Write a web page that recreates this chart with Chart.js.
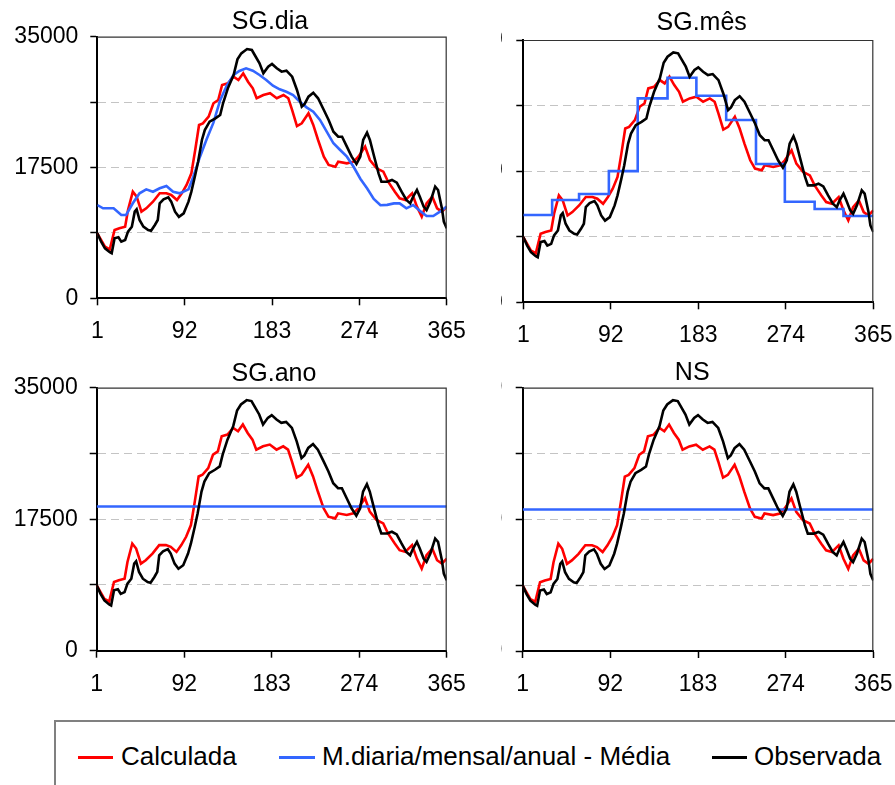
<!DOCTYPE html>
<html>
<head>
<meta charset="utf-8">
<script src="https://cdn.jsdelivr.net/npm/chart.js@4/dist/chart.umd.min.js"></script>
<style>
  html, body { margin: 0; padding: 0; background: #fff; }
  body { width: 895px; height: 785px; position: relative; overflow: hidden;
         font-family: "Liberation Sans", Arial, sans-serif; }
  canvas { position: absolute; }
  #legendBox { position: absolute; left: 54px; top: 720px; width: 900px; height: 100px;
               border: 2px solid #808080; box-sizing: border-box; }
  .key { position: absolute; height: 3px; }
  .lab { position: absolute; font-size: 26px; line-height: 30px; white-space: nowrap; color: #000; }
</style>
</head>
<body>
<canvas id="p1" width="466" height="345" style="left:0;top:0"></canvas>
<canvas id="p2" width="394" height="345" style="left:501px;top:0"></canvas>
<canvas id="p3" width="466" height="350" style="left:0;top:345px"></canvas>
<canvas id="p4" width="394" height="350" style="left:501px;top:345px"></canvas>

<div id="legendBox"></div>
<div class="key" style="left:78px;top:756px;width:35px;background:#ff0000"></div>
<div class="lab" style="left:121px;top:741px">Calculada</div>
<div class="key" style="left:279px;top:756px;width:36px;background:#3366ff"></div>
<div class="lab" style="left:322px;top:741px">M.diaria/mensal/anual - Média</div>
<div class="key" style="left:712px;top:756px;width:35px;background:#000000"></div>
<div class="lab" style="left:754px;top:741px">Observada</div>

<script>
// Day-of-year axis and value axis
const xTickDays = [1, 92, 183, 274, 365];
const yGridValues = [0, 8750, 17500, 26250, 35000];
const yTickLabels = [0, 17500, 35000];

// Observada (observed series)
const obsDays = [1,5,9,14,16,19,23,26,30,33,37,40,42,45,49,54,57,61,64,66,70,75,78,82,86,91,96,99,103,106,110,113,118,124,129,132,137,143,147,151,157,162,165,170,174,179,183,188,193,198,204,209,214,217,221,226,231,237,242,247,252,256,261,266,271,275,278,282,285,289,294,297,303,308,313,318,323,327,330,334,337,341,344,348,353,356,360,362,365];
const obsValues = [8700,7570,6690,6160,6020,8030,8170,7570,7800,8920,9580,11590,11900,10480,9580,9140,9050,9810,10480,12700,13230,13510,12930,11590,10900,11370,12930,14270,16500,18280,21180,22510,23630,24080,24530,26090,28090,29880,31970,32770,33350,33220,32550,31440,30100,30990,31350,30770,30320,30450,29650,27870,25640,26000,26980,27500,26760,25190,23860,22290,21620,21620,20290,18950,17970,18950,21180,22160,21180,19170,16720,15600,15600,15830,15470,14270,13150,12700,13590,14490,13590,12260,11810,12930,14930,14490,12040,10260,9370];

// Calculada (computed series)
const calcDays = [1,9,14,19,24,30,33,38,42,47,52,59,66,73,78,84,89,94,99,103,107,111,117,122,127,131,137,143,148,153,158,163,167,174,181,188,195,200,204,209,214,221,226,231,237,242,249,252,261,268,273,280,285,292,299,304,311,316,322,329,334,339,344,350,355,360,365];
const calcValues = [8700,6900,6550,9140,9370,9580,11810,14260,13590,11590,12040,12920,14050,14050,13820,13150,14050,15160,16720,19840,23190,23410,24300,26090,26530,28540,28760,29650,29210,30100,28980,28090,26760,27200,27430,26760,27200,26760,25190,23050,23410,24750,23190,21180,18950,17840,17610,18280,18060,18280,18950,20290,18500,17390,16940,15600,14260,13380,13150,14050,12260,10920,12710,13590,12040,11590,12260];

// Daily mean (SG.dia)
const dailyDays = [1,7,18,26,31,38,45,52,59,66,73,80,87,96,101,108,115,122,129,136,143,149,156,163,170,177,184,191,198,205,212,219,226,233,240,247,254,261,268,275,282,289,296,303,310,316,323,330,337,344,351,358,365];
const dailyMeans = [12480,12040,12040,11150,11150,12710,14050,14580,14260,14720,15030,14260,14050,14580,16270,18950,21300,23500,26500,28500,29880,30410,30770,30450,29880,29210,28450,27960,27640,27200,26300,25550,24970,23860,22290,20740,19840,18950,17600,16000,14720,13300,12450,12500,12700,12700,12040,12480,11720,11010,11010,11590,12260];

// Monthly mean (SG.mês): value held from each month edge to the next
const monthEdges = [1,31,59,90,120,151,181,212,243,273,304,334,365];
const monthlyMeans = [11650,13650,14450,17500,27210,29960,27560,24320,18450,13420,12450,11510];

// Annual mean (SG.ano) and mean of observations (NS)
const annualMean = 19200;
const nsMean = 18800;

const FONT = '"Liberation Sans", Arial, sans-serif';
const RED = '#ff0000', BLUE = '#3366ff', BLACK = '#000000';

const toPts = (xs, ys) => xs.map((x, i) => ({x, y: ys[i]}));
const monthlyPts = monthEdges.map((d, i) => ({x: d, y: monthlyMeans[Math.min(i, monthlyMeans.length - 1)]}));
const flatPts = v => [{x: 1, y: v}, {x: 365, y: v}];

const panelDecor = {
  id: 'panelDecor',
  afterDraw(chart, args, opts) {
    const {ctx, chartArea: a} = chart;
    ctx.save();
    ctx.strokeStyle = '#333333';
    ctx.lineWidth = 1.2;
    ctx.beginPath();
    ctx.moveTo(a.left, a.top + 0.5);
    ctx.lineTo(a.right - 0.5, a.top + 0.5);
    ctx.lineTo(a.right - 0.5, a.bottom);
    ctx.stroke();
    ctx.fillStyle = '#000';
    ctx.font = '25px ' + FONT;
    ctx.textAlign = 'center';
    ctx.textBaseline = 'alphabetic';
    ctx.fillText(opts.text, opts.x, opts.baseline);
    ctx.restore();
  }
};

function line(data, color, extra) {
  return Object.assign({data, borderColor: color, backgroundColor: color, borderWidth: 2.6,
    pointRadius: 0, tension: 0, fill: false}, extra || {});
}

function makePanel(id, cfg) {
  const blueSet = cfg.blue;
  new Chart(document.getElementById(id), {
    type: 'line',
    data: {
      datasets: [
        line(toPts(obsDays, obsValues), BLACK),
        line(blueSet.data, BLUE, blueSet.stepped ? {stepped: 'before'} : {}),
        line(toPts(calcDays, calcValues), RED)
      ]
    },
    plugins: [panelDecor],
    options: {
      responsive: false,
      animation: false,
      events: [],
      layout: {padding: {top: cfg.top, right: cfg.right, bottom: 0, left: 0}, autoPadding: false},
      plugins: {
        legend: {display: false},
        tooltip: {enabled: false},
        panelDecor: {text: cfg.title, x: cfg.titleX, baseline: cfg.titleBase}
      },
      scales: {
        x: {
          type: 'linear', min: 1, max: 365,
          afterBuildTicks: s => { s.ticks = xTickDays.map(v => ({value: v})); },
          afterFit: s => { s.height = cfg.xh; s.paddingLeft = 0; s.paddingRight = 0; s.paddingTop = 0; s.paddingBottom = 0; },
          grid: {drawOnChartArea: false, drawTicks: true, tickLength: 7, tickColor: '#000', tickWidth: 1.5},
          border: {display: true, color: '#000', width: 2},
          ticks: {font: {family: FONT, size: 23}, color: '#000', padding: 13, maxRotation: 0, autoSkip: false,
                  callback: v => String(v)}
        },
        y: {
          min: 0, max: 35000,
          afterBuildTicks: s => { s.ticks = yGridValues.map(v => ({value: v})); },
          afterFit: s => { s.width = cfg.yw; s.paddingLeft = 0; s.paddingRight = 0; s.paddingTop = 0; s.paddingBottom = 0; },
          grid: {
            color: c => (c.tick && (c.tick.value === 0 || c.tick.value === 35000)) ? 'rgba(0,0,0,0)' : '#c4c4c4',
            lineWidth: 1, tickLength: 7, tickColor: '#000', tickWidth: 1.5
          },
          border: {display: true, color: '#000', width: 2, dash: [8, 5]},
          ticks: {font: {family: FONT, size: 23}, color: '#000', padding: cfg.ypad, autoSkip: false,
                  callback: v => yTickLabels.includes(v) ? String(v) : ''}
        }
      }
    }
  });
}

makePanel('p1', {title: 'SG.dia', titleX: 270, titleBase: 29, top: 36.7, right: 19.3, yw: 97.3, xh: 46.7, ypad: 12,
  blue: {data: toPts(dailyDays, dailyMeans)}});
makePanel('p2', {title: 'SG.mês', titleX: 200.7, titleBase: 29.5, top: 40, right: 21.7, yw: 22.3, xh: 42.7, ypad: 13.5,
  blue: {data: monthlyPts, stepped: true}});
makePanel('p3', {title: 'SG.ano', titleX: 274, titleBase: 36, top: 42.7, right: 19.3, yw: 96.7, xh: 44.3, ypad: 12,
  blue: {data: flatPts(annualMean)}});
makePanel('p4', {title: 'NS', titleX: 191.2, titleBase: 35, top: 42.7, right: 21.7, yw: 21.7, xh: 44, ypad: 13.5,
  blue: {data: flatPts(nsMean)}});
</script>
</body>
</html>
